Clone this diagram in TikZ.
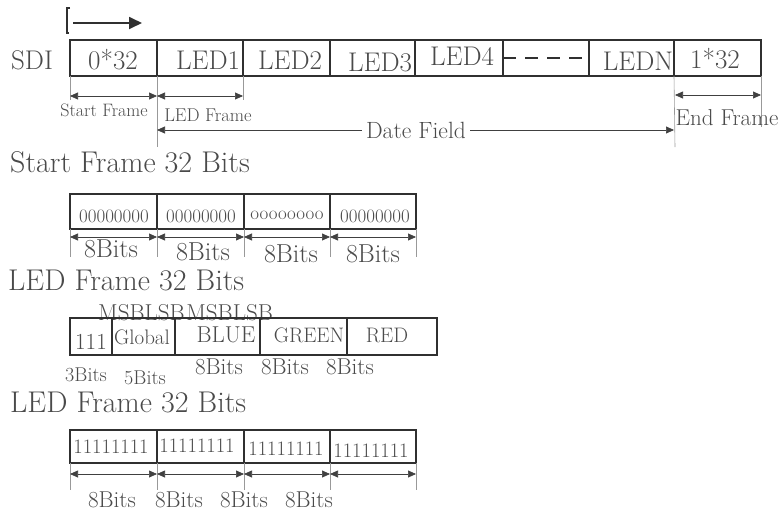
\documentclass[tikz,border=0pt]{standalone}
\usepackage{fontspec}
\usetikzlibrary{arrows.meta}
\definecolor{ink}{HTML}{303030}
\definecolor{txt}{HTML}{4a4a4a}

\begin{document}
\begin{tikzpicture}[x=1pt, y=-1pt, >={Triangle[length=8pt,width=7pt]},
  cell/.style={draw=ink, line width=1.4pt, inner sep=0pt, outer sep=0pt},
  lbl/.style={text=txt, inner sep=0pt, font=\fontsize{#1}{#1}\selectfont},
  lbl/.default=27,
  dim/.style={draw=black!75, line width=0.7pt, <->},
  tick/.style={draw=gray!80, line width=0.6pt}]
\useasboundingbox (0,0) rectangle (780,512);

% SDI stream
\node[lbl] (sdi) at (32,60) {SDI};
\node[cell, minimum width=87, minimum height=36] (c0) at (113.5,58) {};
\node[cell, minimum width=86, minimum height=36] (c1) at (200,58) {};
\node[cell, minimum width=87, minimum height=36] (c2) at (286.5,58) {};
\node[cell, minimum width=85, minimum height=36] (c3) at (372.5,58) {};
\node[cell, minimum width=88, minimum height=36] (c4) at (459,58) {};
\node[cell, minimum width=86, minimum height=36] (c5) at (546,58) {};
\node[cell, minimum width=85, minimum height=36] (c6) at (631.5,58) {};
\node[cell, minimum width=87, minimum height=36] (c7) at (717.5,58) {};

\node[lbl] (t0) at (113,60) {0*32};
\node[lbl] (t1) at (208,60) {LED1};
\node[lbl] (t2) at (290,60) {LED2};
\node[lbl] (t3) at (380,62) {LED3};
\node[lbl] (t4) at (462,56) {LED4};
\node[lbl] (t6) at (638,61) {LEDN};
\node[lbl] (t7) at (715,59) {1*32};
\draw[ink, line width=1.6pt, dash pattern=on 13pt off 9pt] (c5.west) -- (c5.east);

\draw[ink, line width=1.2pt] (70,8) -- (67,8) -- (67,33) -- (69,33);
\coordinate (dir0) at (73,23);
\coordinate (dir1) at (142,23);
\draw[ink, line width=1.8pt, -{Triangle[length=13pt,width=12pt]}] (dir0) -- (dir1);

\coordinate (k0) at (70,100);
\coordinate (k1) at (157,147);
\coordinate (k2) at (243,100);
\coordinate (k3) at (675,147);
\coordinate (k4) at (761,127);
\draw[tick] (c0.south west) -- (k0);
\draw[tick] (c1.south west) -- (k1);
\draw[tick] (c1.south east) -- (k2);
\draw[tick] (c7.south west) -- (k3);
\draw[tick] (c7.south east) -- (k4);

\coordinate (sf0) at (70,96);
\coordinate (sf1) at (157,96);
\coordinate (lf1) at (243,96);
\coordinate (ef0) at (675,95);
\coordinate (ef1) at (761,95);
\coordinate (df0) at (157,130);
\coordinate (df1) at (674,130);
\draw[dim] (sf0) -- (sf1);
\draw[dim] (sf1) -- (lf1);
\draw[dim] (ef0) -- (ef1);

\node[lbl=18] (sfl) at (104,110) {Start Frame};
\node[lbl=18.5] (lfl) at (208,115) {LED Frame};
\node[lbl=23.5, inner xsep=4pt] (dfl) at (416,130) {Date Field};
\node[lbl=23] (efl) at (727,118) {End Frame};
\draw[dim, ->] (dfl.west) -- (df0);
\draw[dim, ->] (dfl.east) -- (df1);

% start frame
\node[lbl=30, anchor=base west] (sft) at (10,172) {Start Frame 32 Bits};
\node[cell, minimum width=87, minimum height=35] (s0) at (113.5,211.5) {};
\node[cell, minimum width=87, minimum height=35] (s1) at (200.5,211.5) {};
\node[cell, minimum width=86, minimum height=35] (s2) at (287,211.5) {};
\node[cell, minimum width=86, minimum height=35] (s3) at (373,211.5) {};
\node[lbl=19] (sb0) at (114,216) {00000000};
\node[lbl=19] (sb1) at (201,216) {00000000};
\node[lbl=19] (sb2) at (287,215) {oooooooo};
\node[lbl=19] (sb3) at (375,216) {00000000};

\coordinate (sk0) at (70,257);
\coordinate (sk1) at (157,257);
\coordinate (sk2) at (244,257);
\coordinate (sk3) at (330,257);
\coordinate (sk4) at (416,257);
\draw[tick] (s0.south west) -- (sk0);
\draw[tick] (s1.south west) -- (sk1);
\draw[tick] (s2.south west) -- (sk2);
\draw[tick] (s3.south west) -- (sk3);
\draw[tick] (s3.south east) -- (sk4);
\coordinate (sa0) at (70,237);
\coordinate (sa1) at (157,237);
\coordinate (sa2) at (244,237);
\coordinate (sa3) at (330,237);
\coordinate (sa4) at (416,237);
\draw[dim] (sa0) -- (sa1);
\draw[dim] (sa1) -- (sa2);
\draw[dim] (sa2) -- (sa3);
\draw[dim] (sa3) -- (sa4);
\node[lbl=26] (sn0) at (111,249) {8Bits};
\node[lbl=26] (sn1) at (203,252) {8Bits};
\node[lbl=26] (sn2) at (291,254) {8Bits};
\node[lbl=26] (sn3) at (373,254) {8Bits};

% LED frame
\node[lbl=30, anchor=base west] (lft) at (8,290) {LED Frame 32 Bits};
\node[lbl=23, anchor=base west] (msb0) at (98,320) {MSBLSB};
\node[lbl=23, anchor=base east] (msb1) at (273,320) {MSBLSB};
\node[cell, minimum width=42, minimum height=37] (l0) at (91,336.5) {};
\node[cell, minimum width=63, minimum height=37] (l1) at (143.5,336.5) {};
\node[cell, minimum width=85, minimum height=37] (l2) at (217.5,336.5) {};
\node[cell, minimum width=87, minimum height=37] (l3) at (303.5,336.5) {};
\node[cell, minimum width=90, minimum height=37] (l4) at (392,336.5) {};
\node[lbl=23] (lt0) at (91,342) {111};
\node[lbl=21] (lt1) at (142,337) {Global};
\node[lbl=23] (lt2) at (226,335) {BLUE};
\node[lbl=21] (lt3) at (309,335) {GREEN};
\node[lbl=21] (lt4) at (387,335) {RED};
\node[lbl=20] (ln0) at (86,375) {3Bits};
\node[lbl=20] (ln1) at (145,378) {5Bits};
\node[lbl=23] (ln2) at (219,367) {8Bits};
\node[lbl=23] (ln3) at (285,367) {8Bits};
\node[lbl=23] (ln4) at (350,367) {8Bits};

% end frame
\node[lbl=30, anchor=base west] (eft) at (10,412) {LED Frame 32 Bits};
\node[cell, minimum width=87, minimum height=33] (e0) at (113.5,446.5) {};
\node[cell, minimum width=87, minimum height=33] (e1) at (200.5,446.5) {};
\node[cell, minimum width=86, minimum height=33] (e2) at (287,446.5) {};
\node[cell, minimum width=86, minimum height=33] (e3) at (373,446.5) {};
\node[lbl=20.5] (eb0) at (111,447) {11111111};
\node[lbl=20.5] (eb1) at (197,446) {11111111};
\node[lbl=20.5] (eb2) at (286,449) {11111111};
\node[lbl=20.5] (eb3) at (371,451) {11111111};

\coordinate (ek0) at (70,490);
\coordinate (ek1) at (157,490);
\coordinate (ek2) at (244,490);
\coordinate (ek3) at (330,490);
\coordinate (ek4) at (416,490);
\draw[tick] (e0.south west) -- (ek0);
\draw[tick] (e1.south west) -- (ek1);
\draw[tick] (e2.south west) -- (ek2);
\draw[tick] (e3.south west) -- (ek3);
\draw[tick] (e3.south east) -- (ek4);
\coordinate (ea0) at (70,474);
\coordinate (ea1) at (157,474);
\coordinate (ea2) at (244,474);
\coordinate (ea3) at (330,474);
\coordinate (ea4) at (416,474);
\draw[dim] (ea0) -- (ea1);
\draw[dim] (ea1) -- (ea2);
\draw[dim] (ea2) -- (ea3);
\draw[dim] (ea3) -- (ea4);
\node[lbl=23] (en0) at (112,500) {8Bits};
\node[lbl=23] (en1) at (179,500) {8Bits};
\node[lbl=23] (en2) at (244,500) {8Bits};
\node[lbl=23] (en3) at (309,500) {8Bits};
\end{tikzpicture}
\end{document}
